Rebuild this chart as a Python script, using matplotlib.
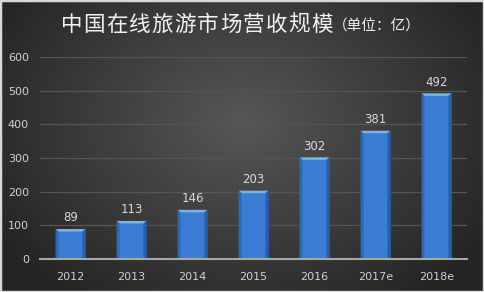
import numpy as np
import matplotlib
matplotlib.use("Agg")
import matplotlib.pyplot as plt
from matplotlib.patches import Polygon, Rectangle

plt.rcParams['font.family'] = ['Noto Sans CJK SC', 'DejaVu Sans']

years = ['2012', '2013', '2014', '2015', '2016', '2017e', '2018e']
revenue = [89, 113, 146, 203, 302, 381, 492]
yticks = [0, 100, 200, 300, 400, 500, 600]
title_main = '中国在线旅游市场营收规模'
title_unit = '（单位：亿）'

W, H, DPI = 484, 292, 100
fig = plt.figure(figsize=(W / DPI, H / DPI), dpi=DPI)

# radial dark background, lighter toward the centre
bg = fig.add_axes([0, 0, 1, 1], zorder=-10)
yy, xx = np.mgrid[0:H, 0:W]
r = np.sqrt(((xx - W * 0.5) / (W * 0.6)) ** 2 + ((yy - H * 0.42) / (H * 0.75)) ** 2)
shade = np.clip(0.34 - 0.2 * r, 0.14, 0.34)
bg.imshow(np.dstack([shade, shade, shade]), extent=[0, 1, 0, 1], aspect='auto', origin='upper')
bg.add_patch(Rectangle((0, 0), 1, 1, transform=bg.transAxes, fill=False,
                       edgecolor='#d8d8d8', linewidth=2.5))
bg.set_xlim(0, 1)
bg.set_ylim(0, 1)
bg.axis('off')

ax = fig.add_axes([40 / W, 1 - 259 / H, 427 / W, (259 - 57) / H])
ax.set_facecolor('none')
x = np.arange(len(years))
bw = 0.49
ax.bar(x, revenue, width=bw, color='#3b7dd4', edgecolor='#24528f', linewidth=0.8, zorder=3)

# bevelled cap on each bar
for xi, v in zip(x, revenue):
    cap = 7.5
    inset = 0.05
    ax.add_patch(Polygon([(xi - bw / 2, v), (xi + bw / 2, v),
                          (xi + bw / 2 - inset, v - cap), (xi - bw / 2 + inset, v - cap)],
                         closed=True, facecolor='#79b3f2', edgecolor='none', zorder=4))
    ax.add_patch(Polygon([(xi - bw / 2, v), (xi - bw / 2 + inset, v - cap),
                          (xi - bw / 2 + inset, 0), (xi - bw / 2, 0)],
                         closed=True, facecolor='#2f68b4', edgecolor='none', zorder=4))
    ax.add_patch(Polygon([(xi + bw / 2, v), (xi + bw / 2 - inset, v - cap),
                          (xi + bw / 2 - inset, 0), (xi + bw / 2, 0)],
                         closed=True, facecolor='#2a5fa6', edgecolor='none', zorder=4))
    ax.text(xi, v + 14, str(v), ha='center', va='bottom', color='#d9d9d9', fontsize=8.5,
            family=['DejaVu Sans'])

ax.set_xlim(-0.5, len(years) - 0.5)
ax.set_ylim(0, 600)
ax.set_yticks(yticks)
ax.set_xticks(x)
ax.set_xticklabels(years)
ax.tick_params(length=0, colors='#d0d0d0', labelsize=8, pad=9)
ax.tick_params(axis='y', pad=8)
for lbl in ax.get_xticklabels() + ax.get_yticklabels():
    lbl.set_family('DejaVu Sans')
for yv in yticks[1:]:
    ax.axhline(yv, color='#555555', linewidth=0.9, zorder=1)
for s in ['top', 'right', 'left']:
    ax.spines[s].set_visible(False)
ax.spines['bottom'].set_color('#a8a8a8')
ax.spines['bottom'].set_linewidth(1.5)
ax.spines['bottom'].set_zorder(5)

# spaced-out title characters
step = 22.75
for i, ch in enumerate(title_main):
    fig.text((60 + step * i + step / 2) / W, 1 - 25 / H, ch, ha='center', va='center',
             color='#f2f2f2', fontsize=15.5)
fig.text(333 / W, 1 - 27 / H, title_unit, ha='left', va='center', color='#f2f2f2', fontsize=10.5)

fig.savefig('out.png', dpi=DPI)
